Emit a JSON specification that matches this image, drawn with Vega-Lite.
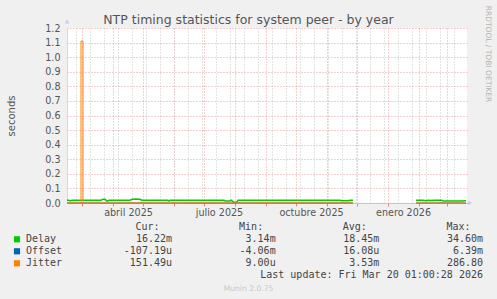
{
  "$schema": "https://vega.github.io/schema/vega-lite/v6.json",
  "width": 400,
  "height": 175,
  "autosize": {"type": "none"},
  "padding": {"left": 67, "top": 28, "right": 30, "bottom": 96},
  "background": "#f0f0f0",
  "config": {
    "view": {"fill": "#ffffff", "stroke": null},
    "font": "DejaVu Sans",
    "axis": {"labelFlush": false, "labelOverlap": false}
  },
  "datasets": {
    "ntp": [
      {"date": "2025-02-14", "series": "Delay", "seg": 1, "value": 0.019},
      {"date": "2025-02-16", "series": "Delay", "seg": 1, "value": 0.019},
      {"date": "2025-02-17", "series": "Delay", "seg": 1, "value": 0.014},
      {"date": "2025-02-19", "series": "Delay", "seg": 1, "value": 0.019},
      {"date": "2025-03-01", "series": "Delay", "seg": 1, "value": 0.019},
      {"date": "2025-03-10", "series": "Delay", "seg": 1, "value": 0.019},
      {"date": "2025-03-20", "series": "Delay", "seg": 1, "value": 0.019},
      {"date": "2025-03-22", "series": "Delay", "seg": 1, "value": 0.026},
      {"date": "2025-03-24", "series": "Delay", "seg": 1, "value": 0.025},
      {"date": "2025-03-26", "series": "Delay", "seg": 1, "value": 0.013},
      {"date": "2025-03-28", "series": "Delay", "seg": 1, "value": 0.019},
      {"date": "2025-04-10", "series": "Delay", "seg": 1, "value": 0.019},
      {"date": "2025-04-18", "series": "Delay", "seg": 1, "value": 0.019},
      {"date": "2025-04-20", "series": "Delay", "seg": 1, "value": 0.026},
      {"date": "2025-04-24", "series": "Delay", "seg": 1, "value": 0.027},
      {"date": "2025-04-28", "series": "Delay", "seg": 1, "value": 0.025},
      {"date": "2025-04-30", "series": "Delay", "seg": 1, "value": 0.019},
      {"date": "2025-05-15", "series": "Delay", "seg": 1, "value": 0.019},
      {"date": "2025-05-26", "series": "Delay", "seg": 1, "value": 0.019},
      {"date": "2025-05-27", "series": "Delay", "seg": 1, "value": 0.013},
      {"date": "2025-05-28", "series": "Delay", "seg": 1, "value": 0.019},
      {"date": "2025-06-15", "series": "Delay", "seg": 1, "value": 0.019},
      {"date": "2025-07-05", "series": "Delay", "seg": 1, "value": 0.019},
      {"date": "2025-07-21", "series": "Delay", "seg": 1, "value": 0.019},
      {"date": "2025-07-22", "series": "Delay", "seg": 1, "value": 0.014},
      {"date": "2025-07-27", "series": "Delay", "seg": 1, "value": 0.014},
      {"date": "2025-07-28", "series": "Delay", "seg": 1, "value": 0.02},
      {"date": "2025-07-29", "series": "Delay", "seg": 1, "value": 0.014},
      {"date": "2025-07-31", "series": "Delay", "seg": 1, "value": 0.006},
      {"date": "2025-08-01", "series": "Delay", "seg": 1, "value": 0.0035},
      {"date": "2025-08-03", "series": "Delay", "seg": 1, "value": 0.008},
      {"date": "2025-08-04", "series": "Delay", "seg": 1, "value": 0.019},
      {"date": "2025-08-25", "series": "Delay", "seg": 1, "value": 0.019},
      {"date": "2025-09-15", "series": "Delay", "seg": 1, "value": 0.019},
      {"date": "2025-10-05", "series": "Delay", "seg": 1, "value": 0.019},
      {"date": "2025-10-25", "series": "Delay", "seg": 1, "value": 0.019},
      {"date": "2025-11-14", "series": "Delay", "seg": 1, "value": 0.019},
      {"date": "2025-11-16", "series": "Delay", "seg": 1, "value": 0.016},
      {"date": "2025-11-22", "series": "Delay", "seg": 1, "value": 0.016},
      {"date": "2025-11-24", "series": "Delay", "seg": 1, "value": 0.019},
      {"date": "2025-11-27", "series": "Delay", "seg": 1, "value": 0.019},
      {"date": "2026-01-29", "series": "Delay", "seg": 2, "value": 0.019},
      {"date": "2026-02-05", "series": "Delay", "seg": 2, "value": 0.019},
      {"date": "2026-02-08", "series": "Delay", "seg": 2, "value": 0.016},
      {"date": "2026-02-10", "series": "Delay", "seg": 2, "value": 0.019},
      {"date": "2026-02-14", "series": "Delay", "seg": 2, "value": 0.017},
      {"date": "2026-02-16", "series": "Delay", "seg": 2, "value": 0.019},
      {"date": "2026-02-24", "series": "Delay", "seg": 2, "value": 0.019},
      {"date": "2026-02-25", "series": "Delay", "seg": 2, "value": 0.014},
      {"date": "2026-03-17", "series": "Delay", "seg": 2, "value": 0.014},
      {"date": "2026-03-18", "series": "Delay", "seg": 2, "value": 0.0162},
      {"date": "2026-03-20", "series": "Delay", "seg": 2, "value": 0.0162},
      {"date": "2025-02-14", "series": "Offset", "seg": 1, "value": 0.0002},
      {"date": "2025-06-01", "series": "Offset", "seg": 1, "value": -0.0003},
      {"date": "2025-11-27", "series": "Offset", "seg": 1, "value": 0.0001},
      {"date": "2026-01-29", "series": "Offset", "seg": 2, "value": 0.0001},
      {"date": "2026-03-20", "series": "Offset", "seg": 2, "value": -0.0001},
      {"date": "2025-02-14", "series": "Jitter", "seg": 1, "value": 0.0008},
      {"date": "2025-02-28", "series": "Jitter", "seg": 1, "value": 1.11},
      {"date": "2025-03-02", "series": "Jitter", "seg": 1, "value": 0.0008},
      {"date": "2025-11-27", "series": "Jitter", "seg": 1, "value": 0.0006},
      {"date": "2026-01-29", "series": "Jitter", "seg": 2, "value": 0.0003},
      {"date": "2026-03-20", "series": "Jitter", "seg": 2, "value": 0.00015}
    ],
    "arrows": [
      {"date": "2025-02-14", "value": 1.245, "dir": "up"},
      {"date": "2026-03-24", "value": 0, "dir": "right"}
    ],
    "legend": [
      {"row": 0, "col": 2, "kind": "head", "text": "Cur:"},
      {"row": 0, "col": 3, "kind": "head", "text": "Min:"},
      {"row": 0, "col": 4, "kind": "head", "text": "Avg:"},
      {"row": 0, "col": 5, "kind": "head", "text": "Max:"},
      {"row": 1, "col": 0, "kind": "swatch", "series": "Delay"},
      {"row": 1, "col": 1, "kind": "name", "text": "Delay"},
      {"row": 1, "col": 2, "kind": "val", "text": "16.22m"},
      {"row": 1, "col": 3, "kind": "val", "text": "3.14m"},
      {"row": 1, "col": 4, "kind": "val", "text": "18.45m"},
      {"row": 1, "col": 5, "kind": "val", "text": "34.60m"},
      {"row": 2, "col": 0, "kind": "swatch", "series": "Offset"},
      {"row": 2, "col": 1, "kind": "name", "text": "Offset"},
      {"row": 2, "col": 2, "kind": "val", "text": "-107.19u"},
      {"row": 2, "col": 3, "kind": "val", "text": "-4.06m"},
      {"row": 2, "col": 4, "kind": "val", "text": "16.08u"},
      {"row": 2, "col": 5, "kind": "val", "text": "6.39m"},
      {"row": 3, "col": 0, "kind": "swatch", "series": "Jitter"},
      {"row": 3, "col": 1, "kind": "name", "text": "Jitter"},
      {"row": 3, "col": 2, "kind": "val", "text": "151.49u"},
      {"row": 3, "col": 3, "kind": "val", "text": "9.00u"},
      {"row": 3, "col": 4, "kind": "val", "text": "3.53m"},
      {"row": 3, "col": 5, "kind": "val", "text": "286.80 "},
      {"row": 4, "col": 5, "kind": "val", "text": "Last update: Fri Mar 20 01:00:28 2026"}
    ]
  },
  "resolve": {"scale": {"x": "independent", "y": "independent", "color": "independent"}},
  "layer": [
    {
      "data": {"name": "ntp"},
      "resolve": {"axis": {"x": "independent", "y": "independent"}},
      "layer": [
        {
          "transform": [{"filter": "datum.series == 'Delay'"}],
          "mark": {"type": "line", "color": "#00cc00", "strokeWidth": 1.5},
          "encoding": {
            "x": {
              "field": "date", "type": "temporal",
              "scale": {"type": "utc", "domain": [{"year": 2025, "month": 2, "date": 14, "utc": true}, {"year": 2026, "month": 3, "date": 21, "utc": true}]},
              "axis": {
                "orient": "bottom",
                "values": [
                  {"year": 2025, "month": 3, "date": 1, "utc": true},
                  {"year": 2025, "month": 4, "date": 1, "utc": true},
                  {"year": 2025, "month": 5, "date": 1, "utc": true},
                  {"year": 2025, "month": 6, "date": 1, "utc": true},
                  {"year": 2025, "month": 7, "date": 1, "utc": true},
                  {"year": 2025, "month": 8, "date": 1, "utc": true},
                  {"year": 2025, "month": 9, "date": 1, "utc": true},
                  {"year": 2025, "month": 10, "date": 1, "utc": true},
                  {"year": 2025, "month": 11, "date": 1, "utc": true},
                  {"year": 2025, "month": 12, "date": 1, "utc": true},
                  {"year": 2026, "month": 1, "date": 1, "utc": true},
                  {"year": 2026, "month": 2, "date": 1, "utc": true},
                  {"year": 2026, "month": 3, "date": 1, "utc": true}
                ],
                "grid": true, "gridColor": "#e06060", "gridOpacity": 0.6, "gridDash": [1, 2],
                "labels": false, "ticks": true, "tickColor": "#f08080", "tickSize": 3,
                "domain": false, "title": null
              }
            },
            "y": {
              "field": "value", "type": "quantitative",
              "scale": {"domain": [0, 1.2], "nice": false},
              "axis": {
                "orient": "left",
                "values": [0, 0.1, 0.2, 0.3, 0.4, 0.5, 0.6, 0.7, 0.8, 0.9, 1.0, 1.1, 1.2],
                "format": ".1f",
                "grid": true, "gridColor": "#e06060", "gridOpacity": 0.6, "gridDash": [1, 2],
                "ticks": false, "labelPadding": 7, "labelFont": "DejaVu Sans", "labelFontSize": 9.6, "labelColor": "#555555",
                "domain": true, "domainColor": "#cfd6f8",
                "title": "seconds", "titleX": -56, "titleY": 87.5, "titleAngle": -90, "titleAlign": "center", "titleBaseline": "middle",
                "titleFont": "DejaVu Sans", "titleFontSize": 10, "titleFontWeight": "normal", "titleColor": "#555555"
              }
            },
            "detail": {"field": "seg", "type": "nominal"}
          }
        },
        {
          "transform": [{"filter": "datum.series == 'Offset'"}],
          "mark": {"type": "line", "color": "#0066b3", "strokeWidth": 1},
          "encoding": {
            "x": {
              "field": "date", "type": "temporal",
              "axis": {
                "orient": "bottom",
                "values": [
                  {"year": 2025, "month": 2, "date": 23, "utc": true},
                  {"year": 2025, "month": 3, "date": 9, "utc": true},
                  {"year": 2025, "month": 3, "date": 23, "utc": true},
                  {"year": 2025, "month": 4, "date": 6, "utc": true},
                  {"year": 2025, "month": 4, "date": 20, "utc": true},
                  {"year": 2025, "month": 5, "date": 4, "utc": true},
                  {"year": 2025, "month": 5, "date": 18, "utc": true},
                  {"year": 2025, "month": 6, "date": 1, "utc": true},
                  {"year": 2025, "month": 6, "date": 15, "utc": true},
                  {"year": 2025, "month": 6, "date": 29, "utc": true},
                  {"year": 2025, "month": 7, "date": 13, "utc": true},
                  {"year": 2025, "month": 7, "date": 27, "utc": true},
                  {"year": 2025, "month": 8, "date": 10, "utc": true},
                  {"year": 2025, "month": 8, "date": 24, "utc": true},
                  {"year": 2025, "month": 9, "date": 7, "utc": true},
                  {"year": 2025, "month": 9, "date": 21, "utc": true},
                  {"year": 2025, "month": 10, "date": 5, "utc": true},
                  {"year": 2025, "month": 10, "date": 19, "utc": true},
                  {"year": 2025, "month": 11, "date": 2, "utc": true},
                  {"year": 2025, "month": 11, "date": 16, "utc": true},
                  {"year": 2025, "month": 11, "date": 30, "utc": true},
                  {"year": 2025, "month": 12, "date": 14, "utc": true},
                  {"year": 2025, "month": 12, "date": 28, "utc": true},
                  {"year": 2026, "month": 1, "date": 11, "utc": true},
                  {"year": 2026, "month": 1, "date": 25, "utc": true},
                  {"year": 2026, "month": 2, "date": 8, "utc": true},
                  {"year": 2026, "month": 2, "date": 22, "utc": true},
                  {"year": 2026, "month": 3, "date": 8, "utc": true}
                ],
                "grid": true, "gridColor": "#c8c8c8", "gridDash": [1, 2],
                "labels": false, "ticks": false, "domain": false, "title": null
              }
            },
            "y": {
              "field": "value", "type": "quantitative",
              "axis": {
                "orient": "right", "labels": false, "ticks": false, "grid": false, "domain": false,
                "title": "RRDTOOL / TOBI OETIKER", "titleX": 20, "titleY": 25.5, "titleAngle": 90, "titleAlign": "center", "titleBaseline": "middle",
                "titleFont": "DejaVu Sans", "titleFontSize": 7.5, "titleFontWeight": "normal", "titleColor": "#b4b4b4"
              }
            },
            "detail": {"field": "seg", "type": "nominal"}
          }
        },
        {
          "transform": [{"filter": "datum.series == 'Jitter'"}],
          "mark": {"type": "line", "color": "#ff8000", "strokeWidth": 1, "interpolate": "step-after"},
          "encoding": {
            "x": {
              "field": "date", "type": "temporal",
              "axis": {
                "orient": "bottom",
                "values": [
                  {"year": 2025, "month": 4, "date": 16, "utc": true},
                  {"year": 2025, "month": 7, "date": 16, "utc": true},
                  {"year": 2025, "month": 10, "date": 16, "utc": true},
                  {"year": 2026, "month": 1, "date": 16, "utc": true}
                ],
                "labelExpr": "['enero','febrero','marzo','abril','mayo','junio','julio','agosto','septiembre','octubre','noviembre','diciembre'][utcmonth(datum.value)] + ' ' + utcyear(datum.value)",
                "grid": false, "ticks": false, "tickSize": 0, "labelPadding": 4,
                "labelFont": "DejaVu Sans", "labelFontSize": 9.6, "labelColor": "#555555",
                "domain": true, "domainColor": "#e8b8b0",
                "title": "Munin 2.0.75", "titleX": 181, "titleY": 85, "titleAngle": 0, "titleAlign": "center", "titleBaseline": "middle",
                "titleFont": "DejaVu Sans", "titleFontSize": 7.6, "titleFontWeight": "normal", "titleColor": "#c8c8c8"
              }
            },
            "y": {"field": "value", "type": "quantitative", "axis": null},
            "detail": {"field": "seg", "type": "nominal"}
          }
        },
        {
          "data": {"name": "arrows"},
          "transform": [{"filter": "datum.dir == 'up'"}],
          "mark": {"type": "point", "shape": "triangle-up", "filled": true, "size": 22, "color": "#c8ccf4", "opacity": 1},
          "encoding": {
            "x": {
              "field": "date", "type": "temporal",
              "axis": {
                "orient": "top", "labels": false, "ticks": false, "grid": false, "domain": false,
                "title": "NTP timing statistics for system peer - by year",
                "titleX": 181, "titleY": -5, "titleAngle": 0, "titleAlign": "center", "titleBaseline": "alphabetic",
                "titleFont": "DejaVu Sans", "titleFontSize": 12.5, "titleFontWeight": "normal", "titleColor": "#555555"
              }
            },
            "y": {"field": "value", "type": "quantitative", "axis": null}
          }
        },
        {
          "data": {"name": "arrows"},
          "transform": [{"filter": "datum.dir == 'right'"}],
          "mark": {"type": "point", "shape": "triangle-right", "filled": true, "size": 22, "color": "#c8ccf4", "opacity": 1},
          "encoding": {
            "x": {"field": "date", "type": "temporal", "axis": null},
            "y": {"field": "value", "type": "quantitative", "axis": null}
          }
        }
      ]
    },
    {
      "data": {"name": "legend"},
      "encoding": {
        "x": {"field": "col", "type": "quantitative", "scale": {"domain": [0, 1, 2, 5], "range": [-50, -41, 105, 416], "nice": false, "zero": false}, "axis": null},
        "y": {"field": "row", "type": "quantitative", "scale": {"domain": [0, 4], "range": [199.3, 247.3], "nice": false, "zero": false}, "axis": null}
      },
      "layer": [
        {
          "transform": [{"filter": "datum.kind == 'swatch'"}],
          "mark": {"type": "point", "shape": "square", "filled": true, "size": 38, "opacity": 1},
          "encoding": {
            "color": {"field": "series", "type": "nominal", "scale": {"domain": ["Delay", "Offset", "Jitter"], "range": ["#00cc00", "#0066b3", "#ff8000"]}, "legend": null}
          }
        },
        {
          "transform": [{"filter": "datum.kind == 'head'"}],
          "mark": {"type": "text", "align": "right", "dx": -12.5, "baseline": "middle", "font": "DejaVu Sans Mono", "fontSize": 10, "color": "#444444"},
          "encoding": {"text": {"field": "text", "type": "nominal"}}
        },
        {
          "transform": [{"filter": "datum.kind == 'name'"}],
          "mark": {"type": "text", "align": "left", "baseline": "middle", "font": "DejaVu Sans Mono", "fontSize": 10, "color": "#444444"},
          "encoding": {"text": {"field": "text", "type": "nominal"}}
        },
        {
          "transform": [{"filter": "datum.kind == 'val'"}],
          "mark": {"type": "text", "align": "right", "baseline": "middle", "font": "DejaVu Sans Mono", "fontSize": 10, "color": "#444444"},
          "encoding": {"text": {"field": "text", "type": "nominal"}}
        }
      ]
    }
  ]
}
